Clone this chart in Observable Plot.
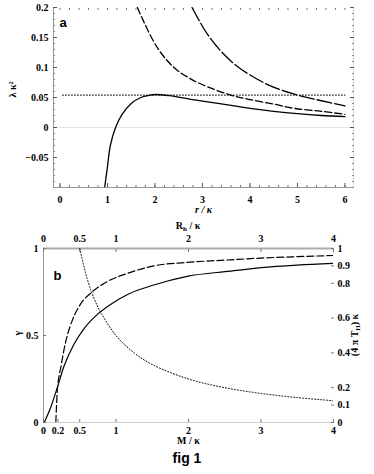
<!DOCTYPE html>
<html><head><meta charset="utf-8">
<script src="https://cdn.jsdelivr.net/npm/d3@7"></script>
<script src="https://cdn.jsdelivr.net/npm/@observablehq/plot@0.6"></script>
<style>
body{margin:0;background:#fff;}
#wrap{position:relative;width:374px;height:474px;overflow:hidden;}
#a,#b{position:absolute;left:0;}
#a{top:0px} #b{top:215px}
#cap{position:absolute;top:450px;left:0;width:374px;text-align:center;font:bold 14px 'Liberation Sans',Arial,sans-serif;color:#000;}
svg{display:block}
</style></head>
<body><div id="wrap"><div id="a"></div><div id="b"></div><div id="cap">fig 1</div></div>
<script>
// ---------- Panel a data (r/κ vs λκ²) ----------
const aSolidR = [0.94,1.0,1.06,1.17,1.3,1.5,1.7,1.9,2.0,2.3,2.75,3.0,3.5,4.0,4.5,5.0,5.5,6.0];
const aSolidL = [-0.1,-0.065,-0.03,0,0.021,0.04,0.05,0.054,0.055,0.053,0.047,0.044,0.038,0.032,0.027,0.023,0.02,0.018];
const aDashR = [1.63,1.69,2.05,2.4,2.75,3.1,3.59,3.97,4.5,4.92,5.5,6.0];
const aDashL = [0.2,0.189,0.133,0.1,0.081,0.068,0.054,0.047,0.039,0.032,0.027,0.022];
const aLongR = [2.78,3.1,3.45,3.8,4.36,4.92,5.48,6.0];
const aLongL = [0.2,0.156,0.122,0.098,0.072,0.056,0.045,0.036];
const aDotR = [0.05,6.0];
const aDotL = [0.054,0.054];
const aXTicks = [0,1,2,3,4,5,6];
const aXTickLabels = ["0","1","2","3","4","5","6"];
const aYTicks = [-0.05,0,0.05,0.1,0.15,0.2];
const aYTickLabels = ["\u22120.05","0","0.05","0.1","0.15","0.2"];
const aXDomain = [-0.137,6.18];
const aYDomain = [-0.1,0.2];

// ---------- Panel b data ----------
const bSolidM = [0.01,0.1,0.19,0.28,0.42,0.56,0.74,0.93,1.18,1.52,1.98,2.58,3.0,3.5,4.0];
const bSolidG = [0,0.088,0.2,0.32,0.45,0.54,0.62,0.68,0.74,0.79,0.84,0.87,0.89,0.905,0.915];
const bDashM = [0.17,0.19,0.24,0.31,0.4,0.51,0.67,0.88,1.18,1.52,1.98,2.58,3.0,3.5,4.0];
const bDashG = [0,0.18,0.32,0.47,0.59,0.68,0.75,0.81,0.86,0.9,0.92,0.935,0.945,0.953,0.96];
const bDotR = [0.5,0.6,0.7,0.8,1.0,1.25,1.5,2.0,2.5,3.0,3.5,4.0];
const bDotT = [1.0,0.83,0.71,0.625,0.5,0.4,0.333,0.25,0.2,0.167,0.143,0.125];
const bBottomTicks = [0,0.2,0.5,1,2,3,4];
const bBottomLabels = ["0","0.2","0.5","1","2","3","4"];
const bTopTicks = [0,0.5,1,2,3,4];
const bTopLabels = ["0","0.5","1","2","3","4"];
const bLeftTicks = [0,0.5,1];
const bLeftLabels = ["0","0.5","1"];
const bRightTicks = [0,0.1,0.2,0.4,0.6,0.8,0.9,1];
const bRightLabels = ["0","0.1","0.2","0.4","0.6","0.8","0.9","1"];
const bXDomain = [0,4];
const bYDomain = [0,1];

const serif = "'Liberation Serif', 'Times New Roman', serif";
const sans = "'Liberation Sans', Arial, sans-serif";
const pts = (xs, ys) => xs.map((x,i)=>({x, y: ys[i]}));
const lab = (ticks, labels) => d => labels[ticks.indexOf(d)];

// ---------- Panel a ----------
const aMinorX = d3.range(0, 6.01, 0.2).map(v=>+v.toFixed(2));
const aMinorY = d3.range(-0.1, 0.2001, 0.01).map(v=>+v.toFixed(3));
const chartA = Plot.plot({
  width:374, height:215, marginLeft:53, marginRight:21, marginTop:7, marginBottom:28,
  x:{domain:aXDomain}, y:{domain:aYDomain},
  style:{fontFamily:serif, fontSize:"10px", fontWeight:"bold", color:"#000", background:"#fff", overflow:"visible"},
  marks:[
    Plot.ruleY([0], {stroke:"#e4e4e4"}),
    Plot.ruleX([aXDomain[0]], {stroke:"#999"}),
    Plot.ruleY([aYDomain[0]], {stroke:"#999"}),
    Plot.ruleX([aXDomain[1]], {stroke:"#ddd"}),
    Plot.axisX(aMinorX, {anchor:"bottom", tickSize:-2, tickFormat:()=>"", label:null, stroke:"#777"}),
    Plot.axisX(aMinorX, {anchor:"top", tickSize:-2, tickFormat:()=>"", label:null, stroke:"#777"}),
    Plot.axisX(aXTicks, {anchor:"bottom", tickSize:-4, tickPadding:12, tickFormat:lab(aXTicks,aXTickLabels), label:null, stroke:"#555", fontFamily:serif}),
    Plot.axisY(aMinorY, {anchor:"left", tickSize:-2, tickFormat:()=>"", label:null, stroke:"#888"}),
    Plot.axisY(aMinorY, {anchor:"right", tickSize:-2, tickFormat:()=>"", label:null, stroke:"#888"}),
    Plot.axisY(aYTicks, {anchor:"left", tickSize:-4, tickPadding:9, tickFormat:lab(aYTicks,aYTickLabels), label:null, stroke:"#555", fontFamily:serif}),
    Plot.axisY(aYTicks, {anchor:"right", tickSize:-4, tickFormat:()=>"", label:null, stroke:"#555"}),
    Plot.line(pts(aDotR,aDotL), {x:"x", y:"y", stroke:"#000", strokeWidth:1, strokeDasharray:"1,2"}),
    Plot.line(pts(aSolidR,aSolidL), {x:"x", y:"y", stroke:"#000", strokeWidth:1.3, curve:"catmull-rom", clip:true}),
    Plot.line(pts(aDashR,aDashL), {x:"x", y:"y", stroke:"#000", strokeWidth:1.3, strokeDasharray:"7,3", curve:"catmull-rom", clip:true}),
    Plot.line(pts(aLongR,aLongL), {x:"x", y:"y", stroke:"#000", strokeWidth:1.3, strokeDasharray:"15,3", curve:"catmull-rom", clip:true}),
    Plot.text(["a"], {frameAnchor:"top-left", dx:6, dy:10, textAnchor:"start", fontFamily:sans, fontSize:13, fontWeight:"bold"}),
    Plot.text(["r / \u03ba"], {frameAnchor:"bottom", dy:25, fontSize:10, fontStyle:"italic", fontFamily:serif}),
    Plot.text(["\u03bb \u03ba\u00b2"], {frameAnchor:"left", dx:-41, rotate:-90, fontSize:10, fontFamily:serif})
  ]
});
document.getElementById("a").appendChild(chartA);

// ---------- Panel b ----------
const chartB = Plot.plot({
  width:374, height:235, marginLeft:43, marginRight:41, marginTop:33, marginBottom:28,
  x:{domain:bXDomain}, y:{domain:bYDomain},
  style:{fontFamily:serif, fontSize:"10px", fontWeight:"bold", color:"#000", background:"#fff", overflow:"visible"},
  marks:[
    Plot.ruleX([bXDomain[0]], {stroke:"#999"}),
    Plot.ruleY([bYDomain[0]], {stroke:"#ccc"}),
    Plot.ruleY([bYDomain[1]], {stroke:"#aaa", strokeWidth:2}),
    Plot.axisX(bBottomTicks, {anchor:"bottom", tickSize:-3, tickPadding:7, tickFormat:lab(bBottomTicks,bBottomLabels), label:null, stroke:"#777", fontFamily:serif}),
    Plot.axisX(bTopTicks, {anchor:"top", tickSize:-3, tickPadding:10, tickFormat:lab(bTopTicks,bTopLabels), label:null, stroke:"#777", fontFamily:serif}),
    Plot.axisY(bLeftTicks, {anchor:"left", tickSize:-3, tickPadding:8, tickFormat:lab(bLeftTicks,bLeftLabels), label:null, stroke:"#777", fontFamily:serif}),
    Plot.axisY(bRightTicks, {anchor:"right", tickSize:-3, tickPadding:7, tickFormat:lab(bRightTicks,bRightLabels), label:null, stroke:"#777", fontFamily:serif}),
    Plot.line(pts(bDotR,bDotT), {x:"x", y:"y", stroke:"#000", strokeWidth:1, strokeDasharray:"1,2", curve:"catmull-rom", clip:true}),
    Plot.line(pts(bSolidM,bSolidG), {x:"x", y:"y", stroke:"#000", strokeWidth:1.2, curve:"monotone-x", clip:true}),
    Plot.line(pts(bDashM,bDashG), {x:"x", y:"y", stroke:"#000", strokeWidth:1.2, strokeDasharray:"7,3", curve:"monotone-x", clip:true}),
    Plot.text(["b"], {frameAnchor:"top-left", dx:10, dy:22, textAnchor:"start", fontFamily:sans, fontSize:13, fontWeight:"bold"}),
    Plot.text(["M / \u03ba"], {frameAnchor:"bottom", dy:21, fontSize:10, fontFamily:serif}),
    Plot.text(["\u03b3"], {frameAnchor:"left", dx:-26, rotate:-90, fontSize:10, fontFamily:serif})
  ]
});
document.getElementById("b").appendChild(chartB);

// labels with subscripts
const sb = d3.select(chartB);
const cx = (43 + 374 - 41) / 2;
const tTop = sb.append("text").attr("x", cx).attr("y", 14).attr("text-anchor","middle")
  .attr("font-family", serif).attr("font-size", 10).attr("font-weight","bold");
tTop.append("tspan").text("R");
tTop.append("tspan").attr("font-size",7).attr("dy",2).text("h");
tTop.append("tspan").attr("dy",-2).text(" / \u03ba");
const cy = (33 + 235 - 28) / 2;
const tR = sb.append("text").attr("transform", `translate(358,${cy}) rotate(-90)`).attr("text-anchor","middle")
  .attr("font-family", serif).attr("font-size", 10).attr("font-weight","bold");
tR.append("tspan").text("(4 \u03c0 T");
tR.append("tspan").attr("font-size",7).attr("dy",2).text("H");
tR.append("tspan").attr("dy",-2).text(") \u03ba");
</script>
</body></html>
